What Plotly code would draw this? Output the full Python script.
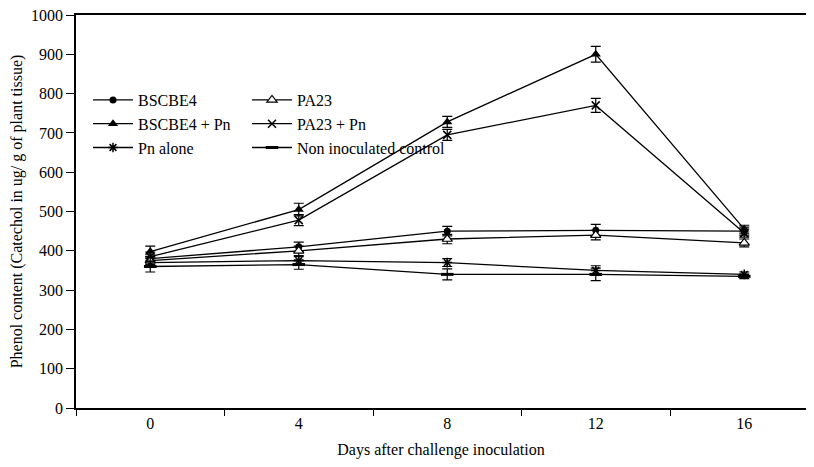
import plotly.graph_objects as go

days = ["0", "4", "8", "12", "16"]

bscbe4 = [380, 410, 450, 452, 450]
bscbe4_err = [10, 12, 12, 15, 10]
bscbe4_pn = [398, 505, 728, 900, 455]
bscbe4_pn_err = [14, 16, 14, 20, 10]
pa23 = [375, 400, 430, 440, 420]
pa23_err = [10, 12, 12, 12, 10]
pa23_pn = [385, 478, 695, 770, 445]
pa23_pn_err = [12, 14, 14, 18, 10]
pn_alone = [370, 375, 370, 350, 340]
pn_alone_err = [10, 10, 10, 12, 6]
control = [360, 365, 340, 340, 335]
control_err = [14, 12, 14, 16, 6]

FONT = "Liberation Serif"
FS = 16
OFF = 8  # page body margin
W, H = 814 - 2 * OFF, 467 - 2 * OFF
# absolute page coordinates of plot area
AX_L, AX_R, AX_T, AX_B = 76, OFF + W, 15, 408
CAT_PX = 148.5
L = AX_L - OFF
T = AX_T - OFF
R = (OFF + W) - AX_R
B = (OFF + H) - AX_B
X_MAX = -0.5 + (AX_R - AX_L) / CAT_PX

series = [
    ("BSCBE4", bscbe4, bscbe4_err, dict(symbol="circle", size=7, color="black"), "legend"),
    ("BSCBE4 + Pn", bscbe4_pn, bscbe4_pn_err, dict(symbol="triangle-up", size=9, color="black"), "legend"),
    ("Pn alone", pn_alone, pn_alone_err, dict(symbol="asterisk-open", size=8, color="black", line=dict(width=1.5, color="black")), "legend"),
    ("PA23", pa23, pa23_err, dict(symbol="triangle-up", size=9, color="white", line=dict(width=1.2, color="black")), "legend2"),
    ("PA23 + Pn", pa23_pn, pa23_pn_err, dict(symbol="x-thin-open", size=8, color="black", line=dict(width=1.5, color="black")), "legend2"),
    ("Non inoculated control", control, control_err, dict(symbol="line-ew-open", size=9, color="black", line=dict(width=3, color="black")), "legend2"),
]

fig = go.Figure()
for i, (name, vals, err, marker, lg) in enumerate(series):
    fig.add_trace(go.Scatter(
        x=days, y=vals, name=name, mode="lines+markers",
        line=dict(color="black", width=1.3),
        marker=marker,
        error_y=dict(type="data", array=err, visible=True, color="black", thickness=1.2, width=5),
        legend=lg, legendgroup=f"g{i}",
    ))

def px_x(px_abs):
    return (px_abs - AX_L) / (AX_R - AX_L)

def px_y(py_abs):
    return 1 - (py_abs - AX_T) / (AX_B - AX_T)

legend_common = dict(
    bgcolor="rgba(0,0,0,0)", borderwidth=0,
    font=dict(family=FONT, size=FS, color="black"),
    xanchor="left", yanchor="top", orientation="v",
    itemwidth=40, tracegroupgap=0,
)

fig.update_layout(
    width=W, height=H,
    margin=dict(l=L, r=R, t=T, b=B, autoexpand=False),
    paper_bgcolor="white", plot_bgcolor="white",
    font=dict(family=FONT, size=FS, color="black"),
    legend=dict(x=px_x(88), y=px_y(83), **legend_common),
    legend2=dict(x=px_x(247), y=px_y(83), **legend_common),
    xaxis=dict(
        type="category", range=[-0.5, X_MAX], automargin=False,
        showline=True, linecolor="black", linewidth=1.5, mirror=True,
        ticks="outside", ticklen=6, tickcolor="black", tickson="boundaries",
        showgrid=False, zeroline=False,
        tickfont=dict(family=FONT, size=FS, color="black"),
        title=dict(text="Days after challenge inoculation", font=dict(family=FONT, size=FS, color="black"), standoff=16),
    ),
    yaxis=dict(
        range=[0, 1000], dtick=100, tick0=0, automargin=False,
        showline=True, linecolor="black", linewidth=1.5,
        ticks="outside", ticklen=8, tickcolor="black",
        ticklabeloverflow="allow",
        showgrid=False, zeroline=False,
        tickfont=dict(family=FONT, size=FS, color="black"),
        title=dict(text="Phenol content (Catechol in ug/ g of plant tissue)", font=dict(family=FONT, size=FS, color="black"), standoff=12),
    ),
)

fig.write_html("out.html")
